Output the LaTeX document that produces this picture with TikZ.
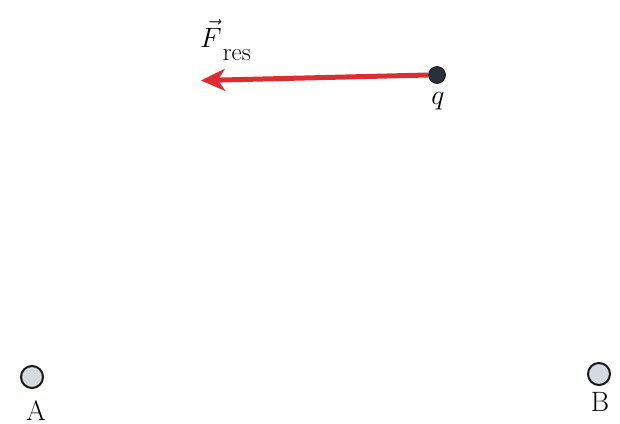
\RequirePackage{fix-cm}
\documentclass[tikz,border=0pt]{standalone}
\usetikzlibrary{arrows.meta}
\definecolor{arrowred}{RGB}{222,45,50}
\definecolor{chargedark}{RGB}{42,48,58}
\definecolor{ballfill}{RGB}{212,218,224}
\begin{document}
\begin{tikzpicture}[x=1pt,y=-1pt,
  lbl/.style={inner sep=0pt,font=\fontsize{28}{34}\selectfont},
  ball/.style={circle,draw=black!90,line width=2pt,fill=ballfill,minimum size=22pt,inner sep=0pt},
  charge/.style={circle,draw=black,fill=chargedark,line width=0.6pt,minimum size=17pt,inner sep=0pt},
  force/.style={draw=arrowred,line width=5pt,-{Stealth[length=24pt,width=22pt,inset=7pt]}}]
\path[use as bounding box] (0,0) rectangle (620,423);
\node[charge] (q) at (437,75) {};
\coordinate (tip) at (201,80.5);
\draw[force] (q.west) -- (tip);
\node[lbl,anchor=north] (ql) at (438,92) {$q$};
\node[lbl,anchor=base west] (F) at (200,47) {$\vec{F}$\kern1pt\raisebox{-13pt}{\fontsize{25}{28}\selectfont res}};
\node[ball] (A) at (32,377) {};
\node[lbl,anchor=north] (Al) at (36,400) {A};
\node[ball] (B) at (599,374) {};
\node[lbl,anchor=north] (Bl) at (600,392) {B};
\end{tikzpicture}
\end{document}
